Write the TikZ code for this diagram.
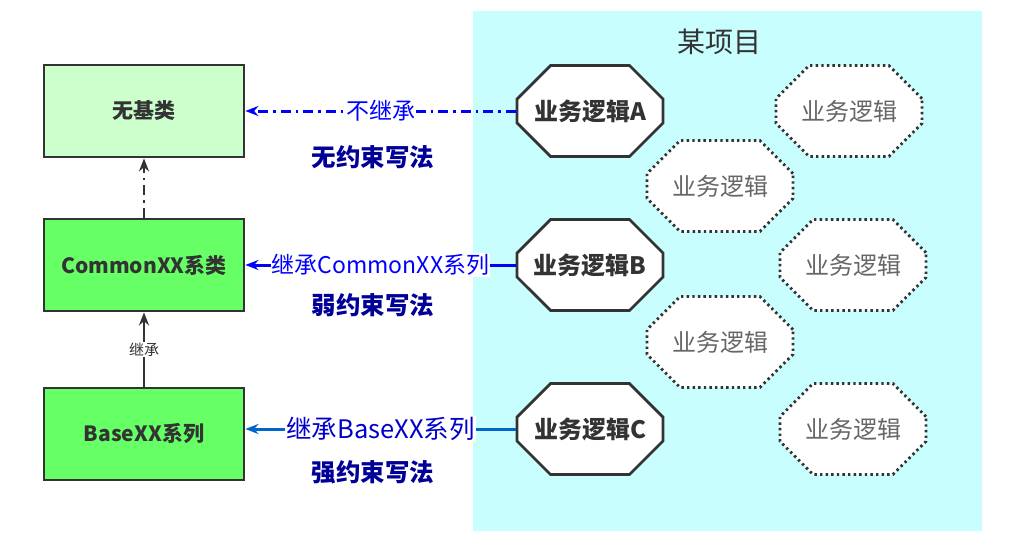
\documentclass[tikz,border=0pt]{standalone}
\usepackage{fontspec}
\setmainfont{Noto Sans CJK SC}
\usetikzlibrary{shapes.misc,arrows.meta}
\definecolor{dk}{HTML}{333333}
\definecolor{lgreen}{HTML}{CCFFCC}
\definecolor{mgreen}{HTML}{66FF66}
\definecolor{cyanbg}{HTML}{C8FEFE}
\definecolor{navy}{HTML}{000099}
\definecolor{lblue}{HTML}{0066CC}
\definecolor{gtext}{HTML}{666666}
\tikzset{
  x=1pt,y=-1pt,
  cls/.style={draw=dk,line width=2.8pt,minimum width=200pt,minimum height=92pt,inner sep=0pt,font=\fontsize{21}{24}\selectfont\bfseries,text=dk},
  oct/.style={chamfered rectangle,chamfered rectangle xsep=23pt,chamfered rectangle ysep=22pt,minimum width=146pt,minimum height=91pt,inner sep=0pt,fill=white},
  octmain/.style={oct,draw=dk,line width=2.8pt,font=\fontsize{24}{27}\selectfont\bfseries,text=dk},
  octdot/.style={oct,draw=dk,line width=2.8pt,dash pattern=on 2.4pt off 3.2pt,font=\fontsize{24}{27}\selectfont,text=gtext},
  lbl/.style={fill=white,inner sep=1pt,font=\fontsize{23}{26}\selectfont},
  sub/.style={font=\fontsize{24.5}{27}\selectfont\bfseries,text=navy},
  tip/.style={-{Stealth[length=13pt,width=10pt]}},
  dashdot/.style={dash pattern=on 10pt off 5pt on 2.5pt off 5pt},
}
\begin{document}
\begin{tikzpicture}
\useasboundingbox (0,0) rectangle (1015,555);
\fill[cyanbg] (473,11) rectangle (982,531);
\node[font=\fontsize{28}{30}\selectfont,text=dk] (title) at (719,42) {某项目};

\node[cls,fill=lgreen] (wuji) at (144,111) {无基类};
\node[cls,fill=mgreen] (common) at (144,265) {CommonXX系类};
\node[cls,fill=mgreen] (base) at (144,434) {BaseXX系列};

\node[octmain] (A) at (590,111) {业务逻辑A};
\node[octmain] (B) at (590,265) {业务逻辑B};
\node[octmain] (C) at (590,429) {业务逻辑C};

\node[octdot] (d1) at (849,111) {业务逻辑};
\node[octdot] (d2) at (720,186) {业务逻辑};
\node[octdot] (d3) at (853,265) {业务逻辑};
\node[octdot] (d4) at (720,342) {业务逻辑};
\node[octdot] (d5) at (853,429) {业务逻辑};

\draw[tip,dk,line width=2.8pt,dashdot] (common.north) -- (wuji.south);
\draw[tip,dk,line width=2.8pt] (base.north) -- node[fill=white,inner sep=1pt,font=\fontsize{15}{17}\selectfont,text=dk,pos=0.5] {继承} (common.south);

\draw[tip,blue,line width=3pt,dashdot] (A.west) -- node[lbl,text=blue] {不继承} (wuji.east);
\draw[tip,blue,line width=3pt] (B.west) -- node[lbl,text=blue] {继承CommonXX系列} (common.east);
\draw[tip,lblue,line width=3pt] (C.west) -- node[lbl,font=\fontsize{25.5}{28}\selectfont,text={rgb,255:red,0;green,0;blue,204}] {继承BaseXX系列} (C.west -| base.east);

\node[sub] (s1) at (373,157) {无约束写法};
\node[sub] (s2) at (373,305) {弱约束写法};
\node[sub] (s3) at (373,472) {强约束写法};
\end{tikzpicture}
\end{document}
